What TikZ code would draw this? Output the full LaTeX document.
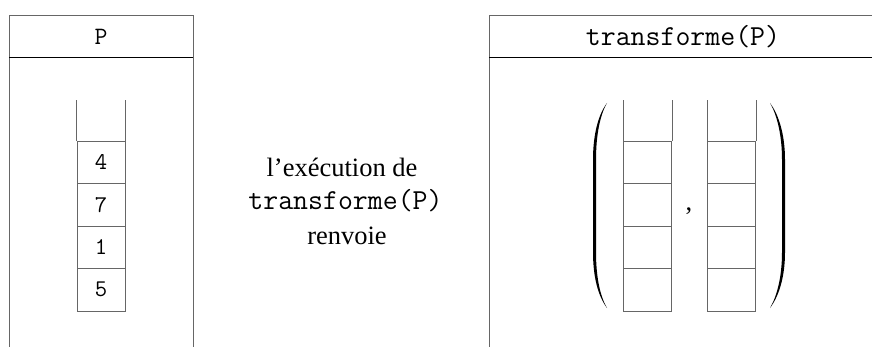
\documentclass[tikz,border=0pt]{standalone}
\usepackage{fontspec}
\setmainfont{Liberation Serif}
\usetikzlibrary{positioning}

\begin{document}
\begin{tikzpicture}[x=1pt,y=-1pt,
  frame/.style={draw=black!60,line width=0.8pt},
  cell/.style={draw=black!60,line width=0.8pt,minimum width=48pt,minimum height=42.5pt,inner sep=0pt,font=\fontsize{24}{24}\ttfamily},
  head/.style={anchor=base,inner sep=0pt,font=\fontsize{29}{29}\ttfamily},
  txt/.style={anchor=base,inner sep=0pt,font=\fontsize{26.5}{26.5}\selectfont}]
\useasboundingbox (0,0) rectangle (872,347);
\clip (0,0) rectangle (872,347);
% left frame
\draw [frame] (9,347) -- (9,15) -- (193,15) -- (193,347);
\draw (9,57) -- (193,57);
\node [head,font=\fontsize{25}{25}\ttfamily] (hP) at (101,45) {P};
\foreach \v [count=\i] in {5,1,7,4}
  \node [cell] (p\i) at (101,{311-21.25-(\i-1)*42.5}) {\v};
\draw [frame] (p4.north west) -- ++(0,-41);
\draw [frame] (p4.north east) -- ++(0,-41);
% middle text
\node [txt] (l1) at (342,177) {l’exécution de};
\node [head] (l2) at (345.5,210) {transforme(P)};
\node [txt] (l3) at (347,245) {renvoie};
% right frame
\draw [frame] (489,347) -- (489,15) -- (880,15) -- (880,347);
\draw (489,57) -- (880,57);
\node [head] (hT) at (683,46) {transforme(P)};
\foreach \x/\n in {647.5/a,731.5/b} {
  \foreach \i in {1,...,4}
    \node [cell] (\n\i) at (\x,{311-21.25-(\i-1)*42.5}) {};
  \draw [frame] (\n4.north west) -- ++(0,-41);
  \draw [frame] (\n4.north east) -- ++(0,-41);
}
\node [txt] (comma) at (689,211) {,};
% parentheses
\fill (607,103) .. controls (598,115) and (593,135) .. (593,160) -- (593,252)
  .. controls (593,277) and (598,296) .. (607,308)
  .. controls (600,296) and (596,277) .. (596,252) -- (596,160)
  .. controls (596,135) and (600,115) .. (607,103) -- cycle;
\fill (770,103) .. controls (779,115) and (785,135) .. (785,160) -- (785,252)
  .. controls (785,277) and (779,296) .. (770,308)
  .. controls (777,296) and (782,277) .. (782,252) -- (782,160)
  .. controls (782,135) and (777,115) .. (770,103) -- cycle;
\end{tikzpicture}
\end{document}
